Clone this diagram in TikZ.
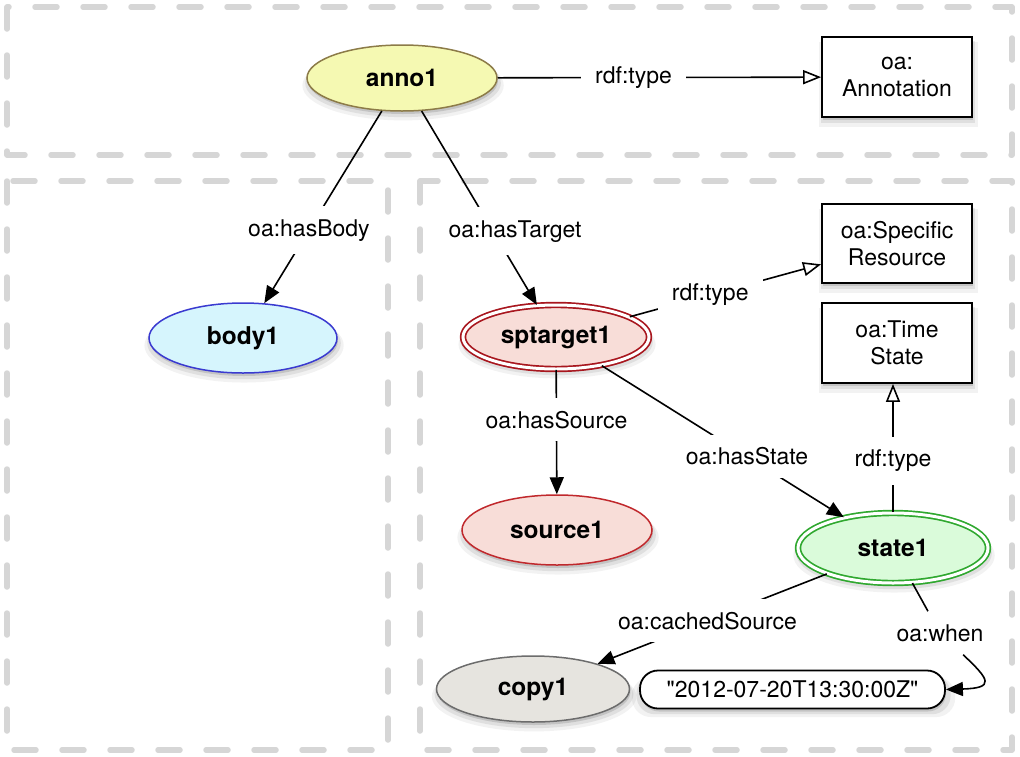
\documentclass[tikz,border=0pt]{standalone}
\usepackage{fontspec}
\setmainfont{texgyreheros}[Extension=.otf, UprightFont=*-regular, BoldFont=*-bold,
  ItalicFont=*-italic, BoldItalicFont=*-bolditalic, Ligatures=TeXOff]
\usetikzlibrary{arrows.meta,shapes.geometric,shadows}

\definecolor{panelgrey}{HTML}{D6D6D6}
\definecolor{annofill}{HTML}{F5F9B2}
\definecolor{annoline}{HTML}{8C7B48}
\definecolor{bodyfill}{HTML}{D6F5FD}
\definecolor{bodyline}{HTML}{3A3AD0}
\definecolor{pinkfill}{HTML}{F8DDD8}
\definecolor{darkred}{HTML}{A8161E}
\definecolor{redline}{HTML}{C0282C}
\definecolor{greenfill}{HTML}{DAFBDA}
\definecolor{greenline}{HTML}{2FA82F}
\definecolor{copyfill}{HTML}{E6E4DF}
\definecolor{copyline}{HTML}{6C6C6C}

\tikzset{
  panel/.style={draw=panelgrey, line width=5.5pt, line cap=round, line join=round,
    dash pattern=on 22pt off 26pt},
  softshadow/.style={
    general shadow={shadow xshift=1pt, shadow yshift=-3pt, shadow scale=1.00, fill=black, opacity=0.12},
    general shadow={shadow xshift=1pt, shadow yshift=-5pt, shadow scale=1.03, fill=black, opacity=0.08},
    general shadow={shadow xshift=1pt, shadow yshift=-7pt, shadow scale=1.06, fill=black, opacity=0.05}},
  res/.style={ellipse, minimum width=190pt, minimum height=68pt, inner sep=0pt,
    line width=1.5pt, softshadow, font=\fontsize{24.5}{28}\selectfont\bfseries},
  spec/.style={res, double=white, double distance=3pt, line width=1.7pt},
  cls/.style={rectangle, draw, line width=1.8pt, fill=white, minimum width=150pt,
    minimum height=80pt, inner sep=0pt, align=center, softshadow,
    font=\fontsize{23}{27}\selectfont},
  lit/.style={rectangle, rounded corners=18pt, draw, line width=1.8pt, fill=white,
    minimum width=305pt, minimum height=38pt, inner sep=0pt, softshadow,
    font=\fontsize{23}{27}\selectfont},
  lbl/.style={fill=white, inner xsep=14pt, inner ysep=13pt, font=\fontsize{23}{27}\selectfont},
  link/.style={line width=1.6pt},
  edge/.style={link, -{Triangle[length=17pt,width=14pt]}},
  typeedge/.style={link, -{Triangle[open,length=18pt,width=14pt,fill=white]}},
}

\begin{document}
\begin{tikzpicture}[x=1pt, y=-1pt]
  \useasboundingbox (0,0) rectangle (1020,756);

  % grouping panels
  \draw[panel] (7,7) rectangle (1012,155);
  \draw[panel] (7,181) rectangle (388,750);
  \draw[panel] (420,181) rectangle (1012,750);

  % resources
  \node[res, draw=annoline, fill=annofill, minimum height=66pt] (anno1) at (402,78) {anno1};
  \node[res, draw=bodyline, fill=bodyfill, minimum width=188pt, minimum height=70pt] (body1) at (243,338) {body1};
  \node[spec, draw=darkred, fill=pinkfill, minimum width=186pt, minimum height=64pt] (sptarget1) at (556,337) {sptarget1};
  \node[res, draw=redline, fill=pinkfill, minimum height=70pt] (source1) at (557,530) {source1};
  \node[spec, draw=greenline, fill=greenfill, minimum width=190pt, minimum height=70pt] (state1) at (893,548) {state1};
  \node[res, draw=copyline, fill=copyfill, minimum width=193pt, minimum height=66pt] (copy1) at (533,689) {copy1};
  \node[lit] (date) at (792.5,689.5) {"2012-07-20T13:30:00Z"};

  % classes
  \node[cls] (annotation) at (897,77) {oa:\\Annotation};
  \node[cls, minimum height=79pt] (specres) at (897,243.5) {oa:Specific\\Resource};
  \node[cls] (timestate) at (897,343) {oa:Time\\State};

  % properties
  \draw[typeedge] (anno1) -- node[lbl, pos=0.42] {rdf:type} (annotation);
  \draw[edge] (anno1) -- node[lbl, pos=0.62] {oa:hasBody} (body1);
  \draw[edge] (anno1) -- node[lbl, pos=0.62, xshift=22pt] {oa:hasTarget} (sptarget1);
  \draw[typeedge] (sptarget1) -- node[lbl, pos=0.42] {rdf:type} (specres);
  \draw[edge] (sptarget1) -- node[lbl, pos=0.40] {oa:hasSource} (source1);
  \draw[edge] (sptarget1) -- node[lbl, pos=0.60] {oa:hasState} (state1);
  \draw[typeedge] (state1.north) -- node[lbl, pos=0.40] {rdf:type} (state1.north |- timestate.south);
  \draw[edge] (state1) -- node[lbl, pos=0.52] {oa:cachedSource} (copy1);

  \node[lbl] (when) at (940,633) {oa:when};
  \draw[link] (state1) -- (when);
  \draw[edge] (when) .. controls (990,680) and (995,688) .. (date.east);
\end{tikzpicture}
\end{document}
